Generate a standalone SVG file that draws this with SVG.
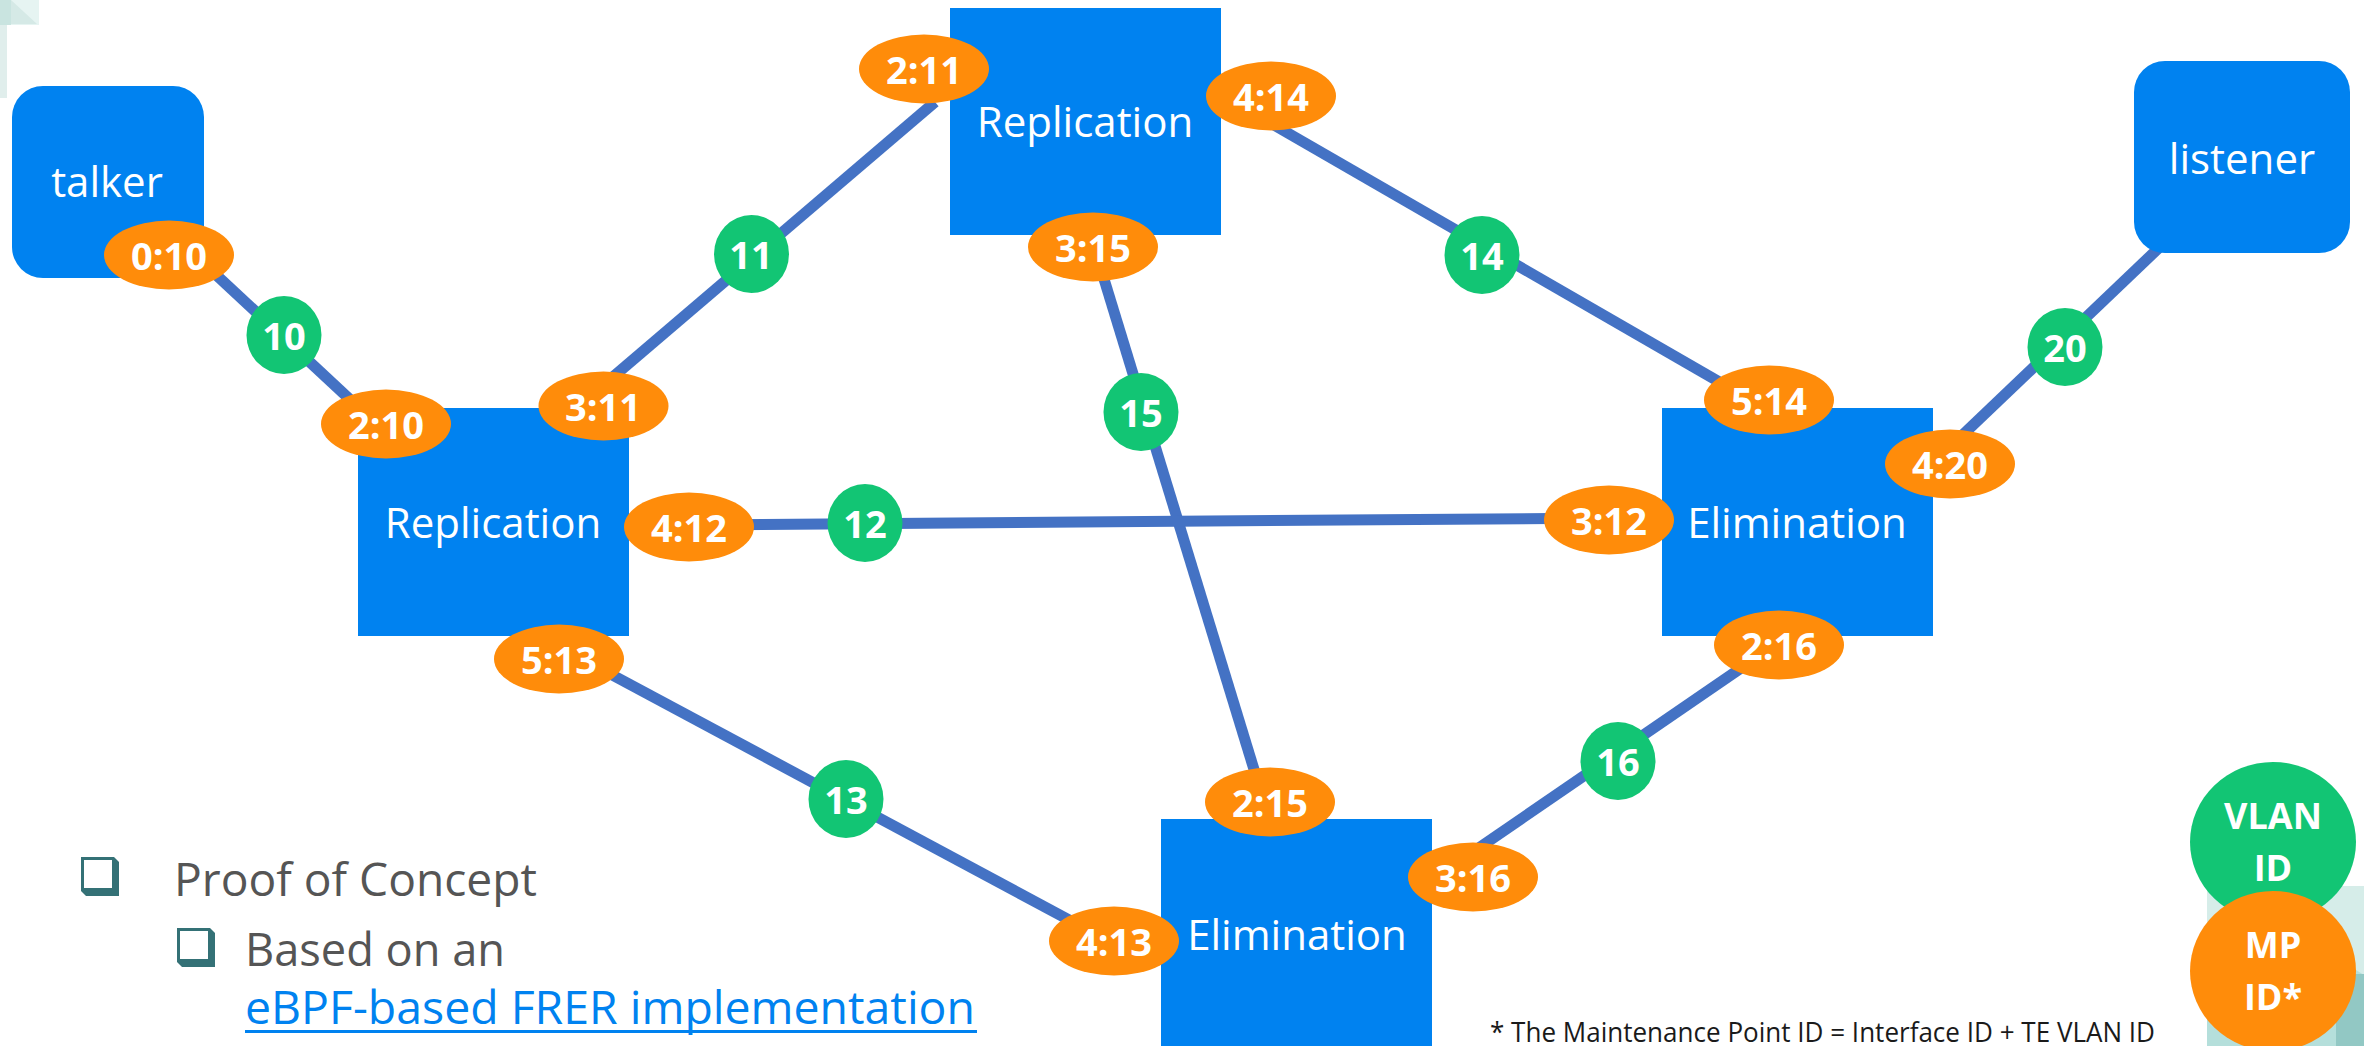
<svg xmlns="http://www.w3.org/2000/svg" width="2364" height="1046" viewBox="0 0 2364 1046">
<style>
.n{fill:#0082f0}
.c{stroke:#4472c4;stroke-width:11;fill:none}
text{font-family:"Open Sans","Noto Sans",sans-serif}
.nt{fill:#fff;font-size:42px;text-anchor:middle}
.o{fill:#ff8c0a}
.g{fill:#12c574}
.lb{fill:#fff;font-size:38px;font-weight:700;text-anchor:middle}
.lg{fill:#fff;font-size:36px;font-weight:700;text-anchor:middle}
.bd{fill:#555;font-size:46px}
.sh{fill:#347176}
</style>
<rect width="2364" height="1046" fill="#fff"/>
<g id="decor">
<rect x="0" y="0" width="39" height="25" fill="#e6f4f2"/>
<path d="M0 0H11V25H0Z" fill="#c9e4e0"/>
<path d="M11 0L37 24H11Z" fill="#d5e9e6"/>
<rect x="0" y="25" width="7" height="73" fill="#e0eeec"/>
<rect x="2207" y="886" width="157" height="160" fill="#d6ede9"/>
<path d="M2207 1046V960L2340 960L2364 975V1046Z" fill="#b5dfdb"/>
<path d="M2336 1046V974H2364V1046Z" fill="#92c8c4"/>
</g>
<g id="connectors">
<line class="c" x1="169" y1="231" x2="386" y2="433"/>
<line class="c" x1="600" y1="388" x2="935" y2="102"/>
<line class="c" x1="1260" y1="117" x2="1768" y2="410"/>
<line class="c" x1="1104" y1="279" x2="1256" y2="776"/>
<line class="c" x1="689" y1="525" x2="1609" y2="518"/>
<line class="c" x1="560" y1="647" x2="1114" y2="944"/>
<line class="c" x1="1779" y1="642" x2="1470" y2="854"/>
<line class="c" x1="1950" y1="447" x2="2165" y2="242"/>
</g>
<g id="node-talker"><rect class="n" x="12" y="86" width="192" height="192" rx="31"/><text class="nt" x="107" y="197">talker</text></g>
<g id="node-listener"><rect class="n" x="2134" y="61" width="216" height="192" rx="31"/><text class="nt" x="2242" y="174">listener</text></g>
<g id="node-rep1"><rect class="n" x="358" y="408" width="271" height="228"/><text class="nt" x="493" y="538">Replication</text></g>
<g id="node-rep2"><rect class="n" x="950" y="8" width="271" height="227"/><text class="nt" x="1085" y="137">Replication</text></g>
<g id="node-elim1"><rect class="n" x="1662" y="408" width="271" height="228"/><text class="nt" x="1797" y="538">Elimination</text></g>
<g id="node-elim2"><rect class="n" x="1161" y="819" width="271" height="227"/><text class="nt" x="1297" y="950">Elimination</text></g>
<g id="mp-0-10"><ellipse class="o" cx="169" cy="255" rx="65" ry="34.5"/><text class="lb" x="169" y="270">0:10</text></g>
<g id="mp-2-10"><ellipse class="o" cx="386" cy="424" rx="65" ry="34.5"/><text class="lb" x="386" y="439">2:10</text></g>
<g id="mp-3-11"><ellipse class="o" cx="603.500" cy="406" rx="65" ry="34.500"/><text class="lb" x="603" y="421">3:11</text></g>
<g id="mp-4-12"><ellipse class="o" cx="689" cy="527" rx="65" ry="34.500"/><text class="lb" x="689" y="542">4:12</text></g>
<g id="mp-5-13"><ellipse class="o" cx="559" cy="659" rx="65" ry="34.500"/><text class="lb" x="559" y="674">5:13</text></g>
<g id="mp-2-11"><ellipse class="o" cx="924" cy="69" rx="65" ry="34.500"/><text class="lb" x="924" y="84">2:11</text></g>
<g id="mp-4-14"><ellipse class="o" cx="1271" cy="96" rx="65" ry="34.500"/><text class="lb" x="1271" y="111">4:14</text></g>
<g id="mp-3-15"><ellipse class="o" cx="1093" cy="247" rx="65" ry="34.500"/><text class="lb" x="1093" y="262">3:15</text></g>
<g id="mp-5-14"><ellipse class="o" cx="1769" cy="400" rx="65" ry="34.500"/><text class="lb" x="1769" y="415">5:14</text></g>
<g id="mp-4-20"><ellipse class="o" cx="1950" cy="464" rx="65" ry="34.500"/><text class="lb" x="1950" y="479">4:20</text></g>
<g id="mp-3-12"><ellipse class="o" cx="1609" cy="520" rx="65" ry="34.500"/><text class="lb" x="1609" y="535">3:12</text></g>
<g id="mp-2-16"><ellipse class="o" cx="1779" cy="645" rx="65" ry="34.500"/><text class="lb" x="1779" y="660">2:16</text></g>
<g id="mp-2-15"><ellipse class="o" cx="1270" cy="802" rx="65" ry="34.500"/><text class="lb" x="1270" y="817">2:15</text></g>
<g id="mp-3-16"><ellipse class="o" cx="1473" cy="877" rx="65" ry="34.500"/><text class="lb" x="1473" y="892">3:16</text></g>
<g id="mp-4-13"><ellipse class="o" cx="1114" cy="941" rx="65" ry="34.500"/><text class="lb" x="1114" y="956">4:13</text></g>
<g id="vlan-10"><ellipse class="g" cx="284" cy="335" rx="37.500" ry="39"/><text class="lb" x="284" y="350">10</text></g>
<g id="vlan-11"><ellipse class="g" cx="751.500" cy="254" rx="37.500" ry="39"/><text class="lb" x="751" y="269">11</text></g>
<g id="vlan-14"><ellipse class="g" cx="1482" cy="255" rx="37.500" ry="39"/><text class="lb" x="1482" y="270">14</text></g>
<g id="vlan-15"><ellipse class="g" cx="1141" cy="412" rx="37.500" ry="39"/><text class="lb" x="1141" y="427">15</text></g>
<g id="vlan-12"><ellipse class="g" cx="865" cy="523" rx="37.500" ry="39"/><text class="lb" x="865" y="538">12</text></g>
<g id="vlan-13"><ellipse class="g" cx="846" cy="799" rx="37.500" ry="39"/><text class="lb" x="846" y="814">13</text></g>
<g id="vlan-16"><ellipse class="g" cx="1618" cy="761" rx="37.500" ry="39"/><text class="lb" x="1618" y="776">16</text></g>
<g id="vlan-20"><ellipse class="g" cx="2065" cy="347" rx="37.500" ry="39"/><text class="lb" x="2065" y="362">20</text></g>
<g id="legend-vlan"><ellipse class="g" cx="2273" cy="842" rx="83" ry="80"/><text class="lg" x="2273" y="829">VLAN</text><text class="lg" x="2273" y="881">ID</text></g>
<g id="legend-mp"><ellipse class="o" cx="2273" cy="971" rx="83" ry="80"/><text class="lg" x="2273" y="958">MP</text><text class="lg" x="2273" y="1010">ID*</text></g>
<g id="notes">
<path class="sh" d="M81 857H114L119 862V896H86L81 891Z"/><rect x="84" y="860" width="28" height="28" fill="#fff"/>
<path class="sh" d="M177 928H210L215 933V967H182L177 962Z"/><rect x="180" y="931" width="28" height="28" fill="#fff"/>
<text class="bd" x="174" y="896" textLength="363" lengthAdjust="spacingAndGlyphs">Proof of Concept</text>
<text class="bd" x="245" y="966" textLength="260" lengthAdjust="spacingAndGlyphs">Based on an</text>
<text class="bd" x="245" y="1024" textLength="730" lengthAdjust="spacingAndGlyphs" style="fill:#0082f0">eBPF-based FRER implementation</text>
<rect x="245" y="1030" width="732" height="3" fill="#0082f0"/>
<text x="1490" y="1042" textLength="665" lengthAdjust="spacingAndGlyphs" style="font-size:27px;fill:#1a1a1a">* The Maintenance Point ID = Interface ID + TE VLAN ID</text>
</g>
</svg>
